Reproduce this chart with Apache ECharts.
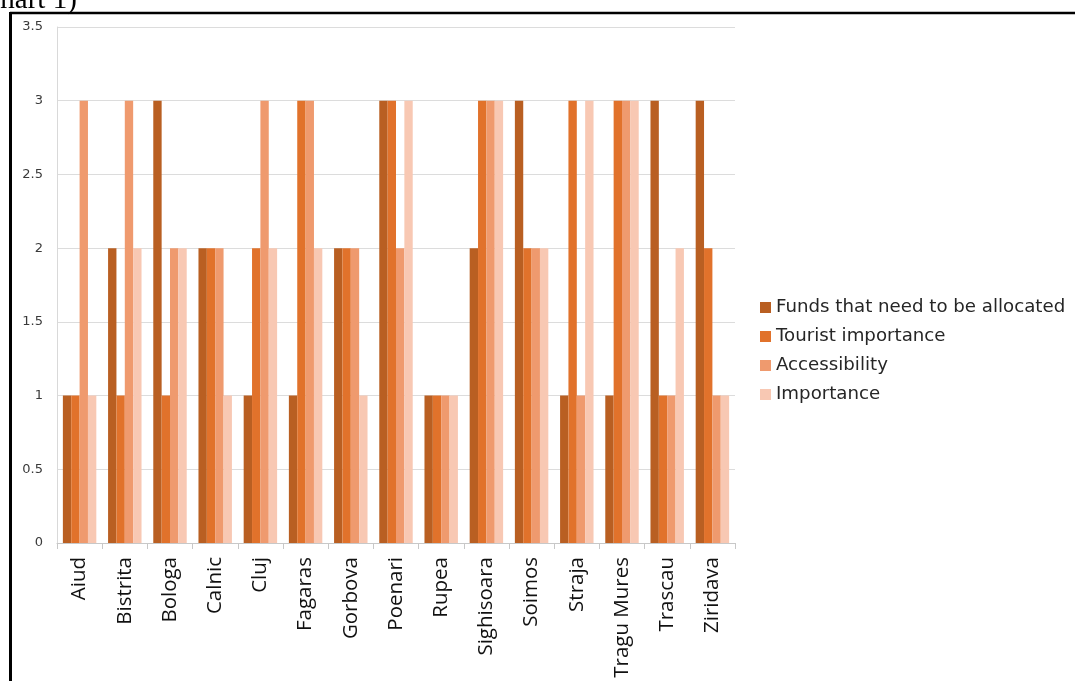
<!DOCTYPE html>
<html><head><meta charset="utf-8">
<script src="https://cdn.jsdelivr.net/npm/echarts@6/dist/echarts.min.js"></script>
<style>html,body{margin:0;padding:0;background:#fff}#c{width:1075px;height:681px}</style>
</head><body><div id="c"></div>
<script>
const categories = ["Aiud","Bistrita","Bologa","Calnic","Cluj","Fagaras","Gorbova","Poenari","Rupea","Sighisoara","Soimos","Straja","Tragu Mures","Trascau","Ziridava"];
const funds      = [1,2,3,2,1,1,2,3,1,2,3,1,1,3,3];
const tourist    = [1,1,1,2,2,3,2,3,1,3,2,3,3,1,2];
const access     = [3,3,2,2,3,3,2,2,1,3,2,1,3,1,1];
const importance = [1,2,2,1,2,2,1,3,1,3,2,3,3,2,1];
const seriesNames = ["Funds that need to be allocated","Tourist importance","Accessibility","Importance"];
const yTicks = [0,0.5,1,1.5,2,2.5,3,3.5];

const colors = ["#B95F22","#E1722B","#EF9A6E","#F8C8B3"];
const chart = echarts.init(document.getElementById('c'));
const dataSets = [funds, tourist, access, importance];
chart.setOption({
  animation: false,
  color: colors,
  grid: {left: 57, right: 340, top: 27, bottom: 138, containLabel: false},
  legend: {
    orient: 'vertical', left: 755, top: 293, icon: 'rect', itemWidth: 11, itemHeight: 11, itemGap: 10,
    textStyle: {fontFamily: 'DejaVu Sans', fontSize: 18.2, color: '#262626', lineHeight: 19},
    data: seriesNames
  },
  xAxis: {
    type: 'category', data: categories,
    axisLine: {lineStyle: {color: '#c8c8c8', width: 1}},
    axisTick: {show: true, interval: 0, length: 6, lineStyle: {color: '#c8c8c8'}},
    axisLabel: {rotate: 90, interval: 0, margin: 14, fontFamily: 'Open Sans', fontSize: 20.5, color: '#111'}
  },
  yAxis: {
    type: 'value', min: 0, max: 3.5, interval: 0.5,
    axisLine: {show: true, lineStyle: {color: '#d9d9d9'}},
    axisTick: {show: false},
    splitLine: {lineStyle: {color: '#dcdcdc', width: 1}},
    axisLabel: {margin: 14, fontFamily: 'DejaVu Sans', fontSize: 13, color: '#3a3a3a',
      formatter: v => yTicks.includes(v) ? String(v) : ''}
  },
  series: seriesNames.map((n, i) => ({
    name: n, type: 'bar', data: dataSets[i], barGap: '0%', barCategoryGap: '26%'
  })),
  graphic: [
    {type: 'line', shape: {x1: 10, y1: 13, x2: 1075, y2: 13}, style: {stroke: '#000', lineWidth: 2.5}},
    {type: 'line', shape: {x1: 10.5, y1: 12, x2: 10.5, y2: 681}, style: {stroke: '#000', lineWidth: 3}},
    {type: 'text', left: -19, top: -14, style: {text: 'Chart 1)', fontFamily: 'Liberation Serif', fontSize: 29, fill: '#000'}}
  ]
});
</script></body></html>
